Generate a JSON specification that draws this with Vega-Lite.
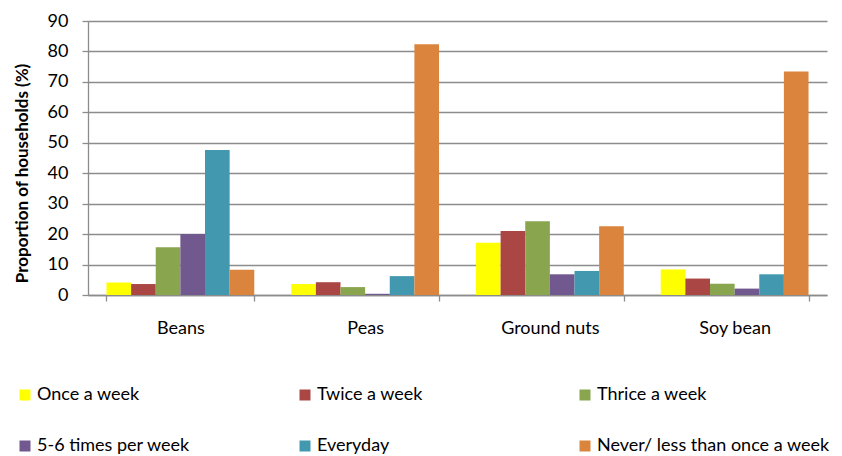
{
  "$schema": "https://vega.github.io/schema/vega-lite/v6.json",
  "width": 739,
  "height": 274,
  "autosize": {"type": "none"},
  "padding": {"left": 88, "top": 21, "right": 15, "bottom": 161},
  "background": "white",
  "config": {
    "font": "Lato",
    "view": {"stroke": null},
    "axis": {"labelFont": "Lato", "titleFont": "Lato", "labelColor": "#000000", "titleColor": "#000000"}
  },
  "data": {
    "values": [
      {"crop": "Beans", "freq": "Once a week", "pct": 4.1},
      {"crop": "Beans", "freq": "Twice a week", "pct": 3.6},
      {"crop": "Beans", "freq": "Thrice a week", "pct": 15.7},
      {"crop": "Beans", "freq": "5-6 times per week", "pct": 20.0},
      {"crop": "Beans", "freq": "Everyday", "pct": 47.6},
      {"crop": "Beans", "freq": "Never/ less than once a week", "pct": 8.3},
      {"crop": "Peas", "freq": "Once a week", "pct": 3.6},
      {"crop": "Peas", "freq": "Twice a week", "pct": 4.2},
      {"crop": "Peas", "freq": "Thrice a week", "pct": 2.6},
      {"crop": "Peas", "freq": "5-6 times per week", "pct": 0.4},
      {"crop": "Peas", "freq": "Everyday", "pct": 6.2},
      {"crop": "Peas", "freq": "Never/ less than once a week", "pct": 82.4},
      {"crop": "Ground nuts", "freq": "Once a week", "pct": 17.2},
      {"crop": "Ground nuts", "freq": "Twice a week", "pct": 21.0},
      {"crop": "Ground nuts", "freq": "Thrice a week", "pct": 24.2},
      {"crop": "Ground nuts", "freq": "5-6 times per week", "pct": 6.8},
      {"crop": "Ground nuts", "freq": "Everyday", "pct": 7.9},
      {"crop": "Ground nuts", "freq": "Never/ less than once a week", "pct": 22.6},
      {"crop": "Soy bean", "freq": "Once a week", "pct": 8.4},
      {"crop": "Soy bean", "freq": "Twice a week", "pct": 5.4},
      {"crop": "Soy bean", "freq": "Thrice a week", "pct": 3.7},
      {"crop": "Soy bean", "freq": "5-6 times per week", "pct": 2.1},
      {"crop": "Soy bean", "freq": "Everyday", "pct": 6.8},
      {"crop": "Soy bean", "freq": "Never/ less than once a week", "pct": 73.4}
    ]
  },
  "mark": {"type": "bar"},
  "encoding": {
    "x": {
      "field": "crop",
      "type": "nominal",
      "sort": ["Beans", "Peas", "Ground nuts", "Soy bean"],
      "scale": {"paddingInner": 0.2, "paddingOuter": 0.1},
      "axis": {
        "title": null,
        "labelAngle": 0,
        "labelFontSize": 18,
        "labelPadding": 18,
        "tickBand": "extent",
        "tickSize": 6,
        "tickColor": "#8c8c8c",
        "tickWidth": 1.3,
        "domainColor": "#8c8c8c",
        "domainWidth": 1.3,
        "grid": false
      }
    },
    "xOffset": {
      "field": "freq",
      "type": "nominal",
      "sort": ["Once a week", "Twice a week", "Thrice a week", "5-6 times per week", "Everyday", "Never/ less than once a week"],
      "scale": {"paddingInner": 0, "paddingOuter": 0}
    },
    "y": {
      "field": "pct",
      "type": "quantitative",
      "scale": {"domain": [0, 90], "nice": false},
      "axis": {
        "title": "Proportion of households (%)",
        "titleFontSize": 17,
        "titleFontWeight": "bold",
        "titleX": -66,
        "titleY": 152,
        "titleAlign": "center",
        "titleBaseline": "middle",
        "titleAngle": -90,
        "values": [0, 10, 20, 30, 40, 50, 60, 70, 80, 90],
        "labelFontSize": 18,
        "labelPadding": 14,
        "tickSize": 6,
        "tickColor": "#8c8c8c",
        "tickWidth": 1.3,
        "domainColor": "#8c8c8c",
        "domainWidth": 1.3,
        "grid": true,
        "gridColor": "#8c8c8c",
        "gridWidth": 1.3
      }
    },
    "color": {
      "field": "freq",
      "type": "nominal",
      "sort": ["Once a week", "Twice a week", "Thrice a week", "5-6 times per week", "Everyday", "Never/ less than once a week"],
      "scale": {
        "domain": ["Once a week", "Twice a week", "Thrice a week", "5-6 times per week", "Everyday", "Never/ less than once a week"],
        "range": ["#FFFF00", "#AA4643", "#89A54E", "#71588F", "#4198AF", "#DB843D"]
      },
      "legend": {
        "title": null,
        "orient": "none",
        "direction": "horizontal",
        "columns": 3,
        "gridAlign": "all",
        "columnPadding": 26,
        "rowPadding": 33,
        "legendX": -72,
        "legendY": 365,
        "padding": 0,
        "symbolType": "square",
        "symbolSize": 121,
        "symbolStrokeWidth": 0,
        "symbolOpacity": 1,
        "labelFontSize": 18,
        "labelFont": "Lato",
        "labelColor": "#000000",
        "labelOffset": 3,
        "labelLimit": 400
      }
    }
  }
}
